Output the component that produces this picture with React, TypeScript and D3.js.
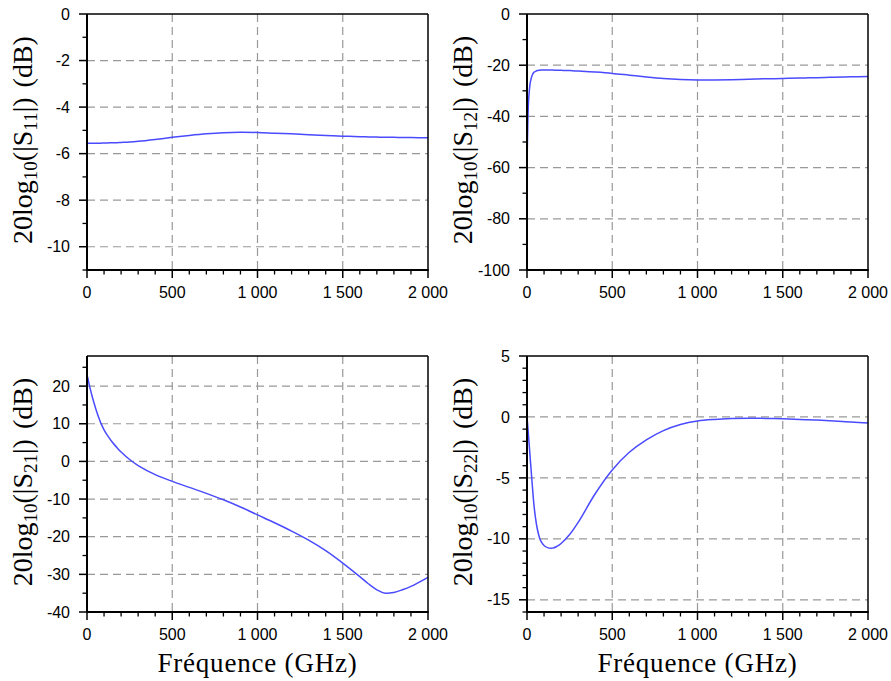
import React from "react";
import * as d3 from "d3";

// Frequency samples (GHz)
const freq = [0, 5, 10, 20, 30, 40, 50, 60, 70, 80, 100, 120, 150, 175, 200, 250, 300, 400, 500, 600, 700, 800, 900, 1000, 1100, 1200, 1300, 1400, 1500, 1600, 1650, 1700, 1750, 1800, 1850, 1900, 2000];

const s11 = [-5.55, -5.55, -5.55, -5.55, -5.55, -5.55, -5.55, -5.55, -5.55, -5.55, -5.54, -5.54, -5.53, -5.53, -5.52, -5.5, -5.47, -5.39, -5.3, -5.22, -5.15, -5.1, -5.08, -5.09, -5.12, -5.15, -5.19, -5.22, -5.25, -5.27, -5.28, -5.29, -5.3, -5.3, -5.31, -5.31, -5.32];
const s12 = [-60, -42, -33, -26.5, -24, -22.8, -22.4, -22.1, -22.0, -21.9, -21.9, -21.9, -21.9, -21.95, -22.0, -22.1, -22.3, -22.7, -23.2, -23.9, -24.6, -25.2, -25.6, -25.8, -25.8, -25.7, -25.5, -25.3, -25.2, -25.0, -24.95, -24.9, -24.8, -24.7, -24.6, -24.55, -24.4];
const s21 = [23, 22.1, 21.0, 19.1, 17.3, 15.7, 14.2, 12.8, 11.5, 10.3, 8.4, 6.9, 5.0, 3.7, 2.5, 0.5, -1.1, -3.5, -5.3, -6.9, -8.5, -10.2, -12.1, -14.2, -16.3, -18.5, -20.9, -23.7, -27.0, -30.6, -32.5, -34.1, -35.0, -34.8, -34.1, -33.2, -30.8];
const s22 = [0, -0.85, -1.75, -3.6, -5.4, -7.1, -8.3, -9.15, -9.75, -10.15, -10.55, -10.72, -10.76, -10.62, -10.38, -9.65, -8.65, -6.3, -4.35, -2.9, -1.88, -1.12, -0.62, -0.33, -0.2, -0.13, -0.1, -0.12, -0.15, -0.2, -0.23, -0.26, -0.3, -0.33, -0.37, -0.42, -0.5];

const xTicks = [0, 500, 1000, 1500, 2000];
const xTickLabels = ["0", "500", "1 000", "1 500", "2 000"];

const s11Ticks = [0, -2, -4, -6, -8, -10];
const s12Ticks = [0, -20, -40, -60, -80, -100];
const s21Ticks = [20, 10, 0, -10, -20, -30, -40];
const s22Ticks = [5, 0, -5, -10, -15];

const xLabel = "Fréquence (GHz)";

const LINE_COLOR = "#4a4aff";

type Panel = {
  values: number[];
  yDomain: [number, number];
  yTicks: number[];
  yMinor: number;
  sub: string;
  left: number;
  top: number;
  showXLabel: boolean;
};

const W = 341;
const H = 256;

const panels: Panel[] = [
  { values: s11, yDomain: [-11, 0], yTicks: s11Ticks, yMinor: 1, sub: "11", left: 87, top: 14, showXLabel: false },
  { values: s12, yDomain: [-100, 0], yTicks: s12Ticks, yMinor: 10, sub: "12", left: 527, top: 14, showXLabel: false },
  { values: s21, yDomain: [-40, 28], yTicks: s21Ticks, yMinor: 5, sub: "21", left: 87, top: 356, showXLabel: true },
  { values: s22, yDomain: [-16, 5], yTicks: s22Ticks, yMinor: 1, sub: "22", left: 527, top: 356, showXLabel: true },
];

function PanelView({ p }: { p: Panel }) {
  const x = d3.scaleLinear().domain([0, 2000]).range([0, W]);
  const y = d3.scaleLinear().domain(p.yDomain).range([H, 0]);
  const line = d3
    .line<number>()
    .x((_, i) => x(freq[i]))
    .y((d) => y(d))
    .curve(d3.curveCatmullRom.alpha(0.5));
  const xMinor = d3.range(0, 2001, 100).filter((v) => v % 500 !== 0);
  const yMinor = d3
    .range(p.yDomain[0], p.yDomain[1] + 0.001, p.yMinor)
    .filter((v) => !p.yTicks.some((t) => Math.abs(t - v) < 1e-6));
  const gridY = p.yTicks.filter((t) => t !== p.yDomain[0] && t !== p.yDomain[1]);
  const gridX = xTicks.filter((t) => t !== 0 && t !== 2000);
  const tickFont = "'Liberation Sans', Arial, sans-serif";
  const serif = "'Liberation Serif', 'Times New Roman', serif";
  return (
    <g transform={`translate(${p.left},${p.top})`}>
      {gridY.map((t) => (
        <line key={"gy" + t} x1={0} x2={W} y1={y(t)} y2={y(t)} stroke="#999" strokeWidth={1.2} strokeDasharray="8,5" />
      ))}
      {gridX.map((t) => (
        <line key={"gx" + t} x1={x(t)} x2={x(t)} y1={0} y2={H} stroke="#999" strokeWidth={1.2} strokeDasharray="8,5" />
      ))}
      <path d={line(p.values) || ""} fill="none" stroke={LINE_COLOR} strokeWidth={1.5} />
      {/* frame */}
      <line x1={0} x2={W} y1={0} y2={0} stroke="#000" strokeWidth={1.5} />
      <line x1={W} x2={W} y1={0} y2={H} stroke="#000" strokeWidth={1.5} />
      <line x1={0} x2={0} y1={0} y2={H + 1} stroke="#000" strokeWidth={2} />
      <line x1={-1} x2={W + 0.75} y1={H} y2={H} stroke="#000" strokeWidth={2} />
      {/* x ticks */}
      {xTicks.map((t, i) => (
        <g key={"xt" + t}>
          <line x1={x(t)} x2={x(t)} y1={H} y2={H + 8} stroke="#000" strokeWidth={1.5} />
          <text x={x(t)} y={H + 28} textAnchor="middle" fontFamily={tickFont} fontSize={16} fill="#000">
            {xTickLabels[i]}
          </text>
        </g>
      ))}
      {xMinor.map((t) => (
        <line key={"xm" + t} x1={x(t)} x2={x(t)} y1={H} y2={H + 4.5} stroke="#000" strokeWidth={1.3} />
      ))}
      {/* y ticks */}
      {p.yTicks.map((t) => (
        <g key={"yt" + t}>
          <line x1={-8} x2={0} y1={y(t)} y2={y(t)} stroke="#000" strokeWidth={1.5} />
          <text x={-17} y={y(t)} dy="0.35em" textAnchor="end" fontFamily={tickFont} fontSize={16} fill="#000">
            {t}
          </text>
        </g>
      ))}
      {yMinor.map((t) => (
        <line key={"ym" + t} x1={-4.5} x2={0} y1={y(t)} y2={y(t)} stroke="#000" strokeWidth={1.3} />
      ))}
      {/* y label */}
      <text
        transform={`translate(${-55},${H / 2 - 2}) rotate(-90)`}
        textAnchor="middle"
        fontFamily={serif}
        fontSize={28}
        fill="#000"
      >
        <tspan>20log</tspan>
        <tspan fontSize={19} dy={5}>10</tspan>
        <tspan dy={-5}>(|S</tspan>
        <tspan fontSize={19} dy={5}>{p.sub}</tspan>
        <tspan dy={-5}>|)</tspan>
        <tspan dx={10}>(dB)</tspan>
      </text>
      {p.showXLabel && (
        <text x={W / 2} y={H + 60} textAnchor="middle" fontFamily={serif} fontSize={27} letterSpacing={0.8} fill="#000">
          {xLabel}
        </text>
      )}
    </g>
  );
}

export default function App() {
  return (
    <svg width={891} height={681} style={{ display: "block", position: "absolute", left: 0, top: 0 }}>
      <rect width={891} height={681} fill="#fff" />
      {panels.map((p, i) => (
        <PanelView key={i} p={p} />
      ))}
    </svg>
  );
}
